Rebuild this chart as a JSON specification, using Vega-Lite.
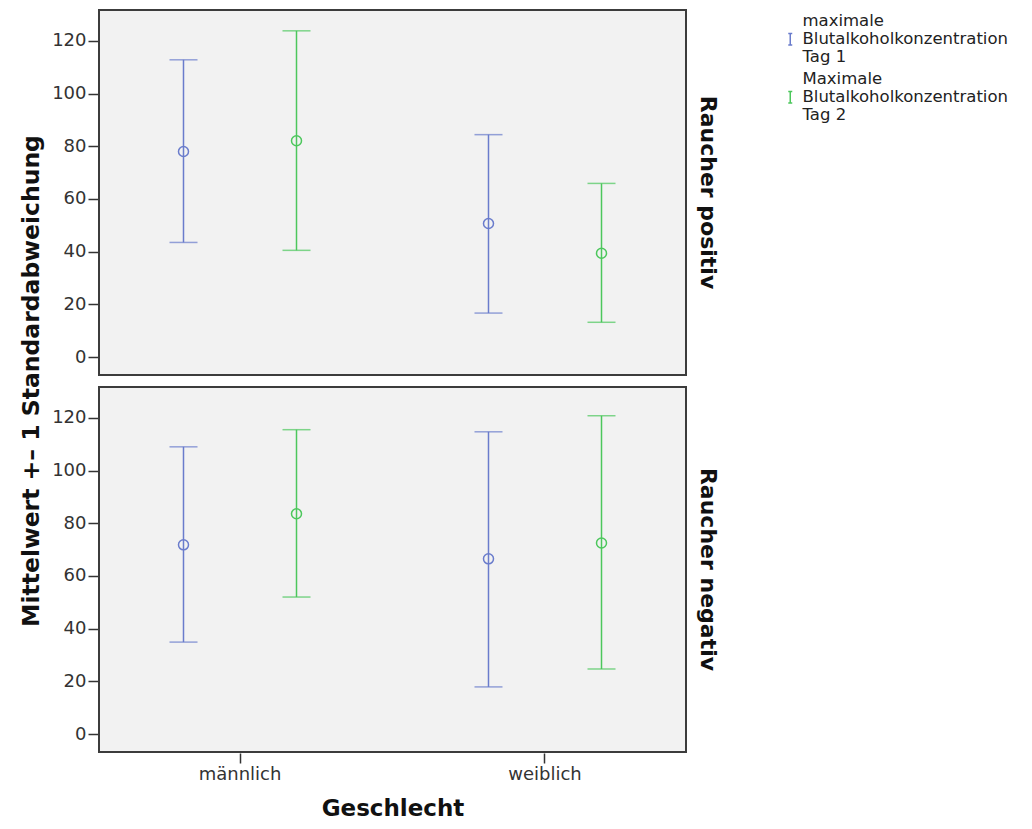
{
  "$schema": "https://vega.github.io/schema/vega-lite/v6.json",
  "padding": {"left": 19, "top": 9, "right": 5, "bottom": 5},
  "background": "white",
  "config": {
    "font": "DejaVu Sans",
    "view": {"fill": "#f2f2f2", "stroke": "#3c3c3c", "strokeWidth": 2},
    "axis": {"grid": false, "domain": false, "tickColor": "#333", "tickSize": 10, "tickWidth": 1.5, "labelColor": "#333", "labelFontSize": 18, "titleFontSize": 23, "titleFontWeight": "bold", "titleColor": "#111"}
  },
  "data": {"values": [
    {"Raucher": "Raucher positiv", "Geschlecht": "männlich", "Variable": "maximale Blutalkoholkonzentration Tag 1", "mean": 78.0, "lower": 43.5, "upper": 112.8},
    {"Raucher": "Raucher positiv", "Geschlecht": "männlich", "Variable": "Maximale Blutalkoholkonzentration Tag 2", "mean": 82.1, "lower": 40.5, "upper": 123.8},
    {"Raucher": "Raucher positiv", "Geschlecht": "weiblich", "Variable": "maximale Blutalkoholkonzentration Tag 1", "mean": 50.7, "lower": 16.7, "upper": 84.4},
    {"Raucher": "Raucher positiv", "Geschlecht": "weiblich", "Variable": "Maximale Blutalkoholkonzentration Tag 2", "mean": 39.4, "lower": 13.2, "upper": 65.9},
    {"Raucher": "Raucher negativ", "Geschlecht": "männlich", "Variable": "maximale Blutalkoholkonzentration Tag 1", "mean": 71.8, "lower": 34.9, "upper": 109.0},
    {"Raucher": "Raucher negativ", "Geschlecht": "männlich", "Variable": "Maximale Blutalkoholkonzentration Tag 2", "mean": 83.6, "lower": 52.0, "upper": 115.5},
    {"Raucher": "Raucher negativ", "Geschlecht": "weiblich", "Variable": "maximale Blutalkoholkonzentration Tag 1", "mean": 66.5, "lower": 17.9, "upper": 114.7},
    {"Raucher": "Raucher negativ", "Geschlecht": "weiblich", "Variable": "Maximale Blutalkoholkonzentration Tag 2", "mean": 72.5, "lower": 24.7, "upper": 120.8}
  ]},
  "spacing": 10,
  "facet": {
    "row": {"field": "Raucher", "type": "nominal", "sort": ["Raucher positiv", "Raucher negativ"],
      "title": "Mittelwert +– 1 Standardabweichung",
      "header": {"titleOrient": "left", "titleFontSize": 23.5, "titleFontWeight": "bold", "titleColor": "#111", "titlePadding": -2,
        "labelOrient": "right", "labelAngle": 90, "labelFontSize": 22, "labelFontWeight": "bold", "labelColor": "#111", "labelPadding": 9}}
  },
  "spec": {
    "width": 587,
    "height": 365,
    "encoding": {
      "x": {"field": "Geschlecht", "type": "nominal", "title": "Geschlecht",
        "scale": {"paddingInner": 0.2, "paddingOuter": 0.0623},
        "axis": {"labelAngle": 0, "labelPadding": 2, "titlePadding": 14}},
      "xOffset": {"field": "Variable", "type": "nominal", "sort": ["maximale Blutalkoholkonzentration Tag 1", "Maximale Blutalkoholkonzentration Tag 2"], "scale": {"paddingInner": 0, "paddingOuter": 0.0796}},
      "color": {"field": "Variable", "type": "nominal", "sort": ["maximale Blutalkoholkonzentration Tag 1", "Maximale Blutalkoholkonzentration Tag 2"],
        "scale": {"range": ["#6a7ccc", "#4cc75c"]},
        "legend": {"title": null, "orient": "none", "legendX": 683, "legendY": 21,
          "symbolType": "M-0.35,-1H0.35M0,-1V1M-0.35,1H0.35", "symbolSize": 130, "symbolStrokeWidth": 1.5, "symbolFillColor": "transparent",
          "labelFontSize": 16.5, "labelColor": "#222", "labelLimit": 400, "rowPadding": 5,
          "labelExpr": "[slice(datum.label,0,8), slice(datum.label,9,33), slice(datum.label,34)]",
          "encode": {"labels": {"update": {"lineHeight": {"value": 18}, "dy": {"value": -18}}}}}}
    },
    "layer": [
      {"mark": {"type": "rule", "strokeWidth": 1.5},
        "encoding": {
          "y": {"field": "lower", "type": "quantitative", "title": null,
            "scale": {"domain": [-6.8, 131.7], "nice": false, "zero": false},
            "axis": {"values": [0, 20, 40, 60, 80, 100, 120], "labelPadding": 2}},
          "y2": {"field": "upper"}}},
      {"mark": {"type": "tick", "thickness": 1.5, "size": 28}, "encoding": {"y": {"field": "lower", "type": "quantitative"}}},
      {"mark": {"type": "tick", "thickness": 1.5, "size": 28}, "encoding": {"y": {"field": "upper", "type": "quantitative"}}},
      {"mark": {"type": "point", "filled": false, "size": 100, "strokeWidth": 1.5, "opacity": 1}, "encoding": {"y": {"field": "mean", "type": "quantitative"}}}
    ]
  }
}
